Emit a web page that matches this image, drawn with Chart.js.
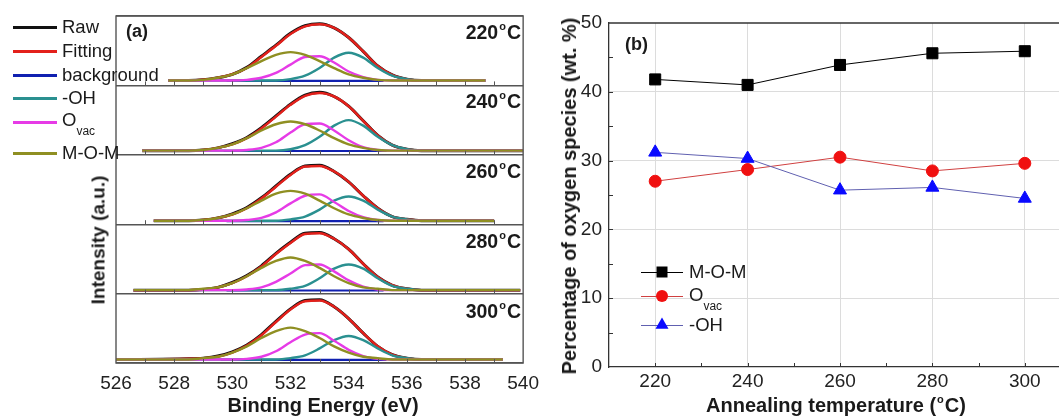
<!DOCTYPE html>
<html><head><meta charset="utf-8">
<script src="https://cdn.jsdelivr.net/npm/chart.js@4.4.1/dist/chart.umd.min.js"></script>
<style>
html,body{margin:0;padding:0;width:1059px;height:417px;overflow:hidden;background:#fff;}
body{position:relative;font-family:"Liberation Sans",Arial,sans-serif;color:#1a1a1a;}
#wrapA{position:absolute;left:0;top:0;width:540px;height:417px;}
#wrapB{position:absolute;left:540px;top:0;width:540px;height:417px;}
.t{position:absolute;white-space:nowrap;line-height:1;}
.b{font-weight:bold;font-size:20px;}
.lg{font-size:18.5px;}
.sub{font-size:12px;position:relative;top:9px;}
.sup{font-size:11px;position:relative;top:-9px;margin:0 1px;}
.rot{transform:translate(-50%,-50%) rotate(-90deg);}
.ln{position:absolute;height:3px;}
</style>
</head><body>
<div id="wrapA"><canvas id="cA" width="540" height="417"></canvas></div>
<div id="wrapB"><canvas id="cB" width="540" height="417"></canvas></div>

<!-- legend (a) -->
<div class="ln" style="left:13px;top:26px;width:44px;background:#111"></div>
<div class="ln" style="left:13px;top:50px;width:44px;background:#e3201b"></div>
<div class="ln" style="left:13px;top:74px;width:44px;background:#1020b0"></div>
<div class="ln" style="left:13px;top:97px;width:44px;background:#2a9090"></div>
<div class="ln" style="left:13px;top:121px;width:44px;background:#e63be6"></div>
<div class="ln" style="left:13px;top:152px;width:44px;background:#8f8f22"></div>
<div class="t lg" style="left:62px;top:18px">Raw</div>
<div class="t lg" style="left:62px;top:42px">Fitting</div>
<div class="t lg" style="left:62px;top:66px">background</div>
<div class="t lg" style="left:62px;top:89px">-OH</div>
<div class="t lg" style="left:62px;top:111px">O<span class="sub">vac</span></div>
<div class="t lg" style="left:62px;top:144px">M-O-M</div>

<div class="t b" style="left:126px;top:22px;font-size:18px">(a)</div>
<div class="t b" style="right:538px;top:23px;font-size:19.5px">220<span class="sup">o</span>C</div>
<div class="t b" style="right:538px;top:92px;font-size:19.5px">240<span class="sup">o</span>C</div>
<div class="t b" style="right:538px;top:162px;font-size:19.5px">260<span class="sup">o</span>C</div>
<div class="t b" style="right:538px;top:232px;font-size:19.5px">280<span class="sup">o</span>C</div>
<div class="t b" style="right:538px;top:302px;font-size:19.5px">300<span class="sup">o</span>C</div>
<div class="t b rot" style="left:98px;top:240px;font-size:19px">Intensity (a.u.)</div>
<div class="t b" style="left:323px;top:395px;transform:translateX(-50%)">Binding Energy (eV)</div>

<div class="t b" style="left:625px;top:35px;font-size:18px">(b)</div>
<div class="t b rot" style="left:569px;top:196px">Percentage of oxygen species (wt. %)</div>
<div class="t b" style="left:836px;top:395px;transform:translateX(-50%)">Annealing temperature (<span class="sup">o</span>C)</div>
<div class="t lg" style="left:689px;top:263px">M-O-M</div>
<div class="t lg" style="left:689px;top:286px">O<span class="sub">vac</span></div>
<div class="t lg" style="left:689px;top:316px">-OH</div>

<script>
const FONT = '"Liberation Sans", Arial, sans-serif';

// ---------- Panel (a): XPS O1s spectra ----------
const energyGrid = [528.5,529,529.5,530,530.5,531,531.5,532,532.5,533,533.5,534,534.5,535,535.5,536,536.5];
const temps = ['220','240','260','280','300'];
const startE = [527.8, 526.9, 527.3, 526.6, 526.0];
const endE   = [538.7, 540.0, 539.0, 539.9, 539.3];
const baseLevel = [0.07, 0.06, 0.05, 0.05, 0.05];
const bgStartE = [529.8, 529.7, 529.8, 529.8, 529.6];
const bgEndE   = [535.2, 535.3, 535.2, 535.2, 535.3];

const raw220  = [0.07,0.08,0.11,0.16,0.26,0.42,0.58,0.75,0.86,0.89,0.83,0.69,0.49,0.28,0.15,0.09,0.07];
const fit220  = [0.07,0.08,0.11,0.16,0.25,0.41,0.57,0.74,0.85,0.88,0.83,0.69,0.49,0.28,0.15,0.09,0.07];
const oh220   = [0.07,0.07,0.07,0.07,0.07,0.07,0.07,0.09,0.14,0.25,0.40,0.47,0.40,0.25,0.14,0.09,0.07];
const ovac220 = [0.07,0.07,0.07,0.07,0.08,0.11,0.18,0.30,0.41,0.42,0.33,0.20,0.12,0.08,0.07,0.07,0.07];
const mom220  = [0.07,0.08,0.11,0.16,0.25,0.35,0.44,0.48,0.44,0.35,0.25,0.16,0.11,0.08,0.07,0.07,0.07];

const raw240  = [0.06,0.07,0.10,0.16,0.25,0.39,0.56,0.73,0.86,0.90,0.84,0.70,0.49,0.28,0.14,0.08,0.06];
const fit240  = [0.06,0.07,0.10,0.15,0.24,0.38,0.55,0.72,0.85,0.89,0.84,0.70,0.49,0.28,0.14,0.08,0.06];
const oh240   = [0.06,0.06,0.06,0.06,0.06,0.06,0.06,0.08,0.14,0.26,0.42,0.50,0.42,0.26,0.14,0.08,0.06];
const ovac240 = [0.06,0.06,0.06,0.06,0.07,0.10,0.18,0.32,0.44,0.45,0.35,0.21,0.11,0.07,0.06,0.06,0.06];
const mom240  = [0.06,0.07,0.10,0.15,0.24,0.35,0.44,0.48,0.44,0.35,0.24,0.15,0.10,0.07,0.06,0.06,0.06];

const raw260  = [0.05,0.06,0.09,0.15,0.24,0.38,0.55,0.72,0.84,0.85,0.76,0.61,0.41,0.23,0.11,0.07,0.05];
const fit260  = [0.05,0.06,0.09,0.14,0.23,0.37,0.54,0.71,0.83,0.84,0.76,0.61,0.41,0.23,0.11,0.07,0.05];
const oh260   = [0.05,0.05,0.05,0.05,0.05,0.05,0.05,0.07,0.11,0.21,0.34,0.40,0.34,0.21,0.11,0.07,0.05];
const ovac260 = [0.05,0.05,0.05,0.05,0.06,0.09,0.17,0.30,0.41,0.43,0.32,0.19,0.10,0.06,0.05,0.05,0.05];
const mom260  = [0.05,0.06,0.09,0.14,0.23,0.34,0.44,0.48,0.44,0.34,0.23,0.14,0.09,0.06,0.05,0.05,0.05];

const raw280  = [0.05,0.06,0.09,0.16,0.26,0.40,0.58,0.74,0.87,0.88,0.79,0.64,0.43,0.24,0.12,0.07,0.05];
const fit280  = [0.05,0.06,0.09,0.15,0.25,0.39,0.57,0.73,0.86,0.87,0.79,0.64,0.43,0.24,0.12,0.07,0.05];
const oh280   = [0.05,0.05,0.05,0.05,0.05,0.05,0.05,0.07,0.11,0.22,0.36,0.42,0.36,0.22,0.11,0.07,0.05];
const ovac280 = [0.05,0.05,0.05,0.05,0.06,0.09,0.17,0.29,0.41,0.42,0.32,0.19,0.10,0.06,0.05,0.05,0.05];
const mom280  = [0.05,0.07,0.09,0.15,0.25,0.37,0.47,0.52,0.47,0.37,0.25,0.15,0.09,0.07,0.05,0.05,0.05];

const raw300  = [0.06,0.07,0.10,0.16,0.26,0.41,0.60,0.78,0.90,0.91,0.81,0.64,0.43,0.24,0.12,0.07,0.05];
const fit300  = [0.06,0.07,0.09,0.15,0.25,0.40,0.59,0.77,0.89,0.90,0.81,0.64,0.43,0.24,0.12,0.07,0.05];
const oh300   = [0.05,0.05,0.05,0.05,0.05,0.05,0.05,0.07,0.11,0.21,0.33,0.39,0.33,0.21,0.11,0.07,0.05];
const ovac300 = [0.05,0.05,0.05,0.05,0.06,0.09,0.17,0.30,0.41,0.43,0.32,0.19,0.10,0.06,0.05,0.05,0.05];
const mom300  = [0.05,0.07,0.09,0.15,0.24,0.36,0.46,0.51,0.46,0.36,0.24,0.15,0.09,0.07,0.05,0.05,0.05];

const panelSeries = {
  '220': {raw: raw220, fit: fit220, oh: oh220, ovac: ovac220, mom: mom220},
  '240': {raw: raw240, fit: fit240, oh: oh240, ovac: ovac240, mom: mom240},
  '260': {raw: raw260, fit: fit260, oh: oh260, ovac: ovac260, mom: mom260},
  '280': {raw: raw280, fit: fit280, oh: oh280, ovac: ovac280, mom: mom280},
  '300': {raw: raw300, fit: fit300, oh: oh300, ovac: ovac300, mom: mom300}
};
const seriesStyles = [
  {key:'raw',  color:'#111111', width:3.0, order:6},
  {key:'fit',  color:'#e3201b', width:2.5, order:5},
  {key:'oh',   color:'#2a9090', width:2.4, order:3},
  {key:'ovac', color:'#e63be6', width:2.4, order:2},
  {key:'mom',  color:'#8f8f22', width:2.4, order:1}
];

const dsA = [];
temps.forEach((t, i) => {
  const off = temps.length - 1 - i;
  const b = baseLevel[i];
  seriesStyles.forEach(st => {
    const arr = panelSeries[t][st.key];
    const pts = [{x: startE[i], y: off + b}]
      .concat(energyGrid.map((e, j) => ({x: e, y: off + arr[j]})))
      .concat([{x: endE[i], y: off + b}]);
    dsA.push({data: pts, borderColor: st.color, borderWidth: st.width, order: st.order,
      pointRadius: 0, fill: false, cubicInterpolationMode: 'monotone'});
  });
  dsA.push({data: [{x: bgStartE[i], y: off + b - 0.005}, {x: bgEndE[i], y: off + b - 0.005}],
    borderColor: '#1020b0', borderWidth: 2.2, order: 4, pointRadius: 0, fill: false});
});

const frameA = {
  id: 'frameA',
  afterDatasetsDraw(chart) {
    const {ctx, chartArea: a, scales: {x, y}} = chart;
    ctx.save();
    ctx.strokeStyle = '#555'; ctx.lineWidth = 1;
    for (let k = 0; k < 5; k++) {
      const py = y.getPixelForValue(k);
      for (let e = 527; e <= 539; e++) {
        const px = Math.round(x.getPixelForValue(e)) + 0.5;
        ctx.beginPath(); ctx.moveTo(px, py); ctx.lineTo(px, py - 4); ctx.stroke();
      }
    }
    ctx.lineWidth = 1.4;
    ctx.strokeRect(a.left, a.top, a.width, a.height);
    ctx.restore();
  }
};

new Chart(document.getElementById('cA'), {
  type: 'line',
  data: {datasets: dsA},
  options: {
    responsive: false, animation: false, events: [],
    layout: {padding: {top: 16, right: 16, left: 0, bottom: 0}},
    plugins: {legend: {display: false}, tooltip: {enabled: false}},
    scales: {
      x: {type: 'linear', min: 526, max: 540,
          ticks: {stepSize: 2, color: '#222', font: {size: 19, family: FONT}, padding: 1, maxRotation: 0},
          grid: {display: false}, border: {display: false},
          afterFit(s) { s.height = 54; }},
      y: {type: 'linear', min: 0, max: 5,
          ticks: {display: false, stepSize: 1},
          grid: {color: '#555', lineWidth: 1.4, drawTicks: false},
          border: {display: false},
          afterFit(s) { s.width = 116; }}
    }
  },
  plugins: [frameA]
});

// ---------- Panel (b): oxygen species ----------
const annealTemps = [220, 240, 260, 280, 300];
const momPct  = [41.8, 41.0, 43.9, 45.6, 45.9];
const ovacPct = [27.0, 28.7, 30.5, 28.5, 29.6];
const ohPct   = [31.2, 30.3, 25.7, 26.1, 24.5];

const toPts = arr => annealTemps.map((t, i) => ({x: t, y: arr[i]}));

function drawMarker(ctx, style, x, y, color) {
  ctx.fillStyle = color;
  ctx.beginPath();
  if (style === 'rect') { ctx.rect(x - 5.5, y - 5.5, 11, 11); }
  else if (style === 'circle') { ctx.arc(x, y, 6, 0, Math.PI * 2); }
  else { const r = 7.5, s = r * Math.sin(Math.PI / 3);
    ctx.moveTo(x, y - r); ctx.lineTo(x - s, y + r / 2); ctx.lineTo(x + s, y + r / 2); ctx.closePath(); }
  ctx.fill();
}

const frameB = {
  id: 'frameB',
  afterDraw(chart) {
    const {ctx, chartArea: a, scales: {x, y}} = chart;
    ctx.save();
    ctx.strokeStyle = '#333'; ctx.lineWidth = 1.3;
    ctx.beginPath(); ctx.moveTo(a.left, a.top); ctx.lineTo(a.right, a.top); ctx.stroke();
    ctx.lineWidth = 1;
    for (let v = 220; v <= 300; v += 10) {
      const px = Math.round(x.getPixelForValue(v)) + 0.5;
      ctx.beginPath(); ctx.moveTo(px, a.bottom); ctx.lineTo(px, a.bottom - 4); ctx.stroke();
    }
    for (let v = 5; v < 50; v += 5) {
      const py = Math.round(y.getPixelForValue(v)) + 0.5;
      ctx.beginPath(); ctx.moveTo(a.left, py); ctx.lineTo(a.left + 4, py); ctx.stroke();
    }
    // legend symbols
    const rows = [
      {y: 272, line: '#000', style: 'rect', c: '#000'},
      {y: 296, line: '#d04040', style: 'circle', c: '#f01010'},
      {y: 325, line: '#6060b0', style: 'triangle', c: '#0a0aff'}
    ];
    rows.forEach(r => {
      ctx.strokeStyle = r.line; ctx.lineWidth = 1;
      ctx.beginPath(); ctx.moveTo(101, r.y + 0.5); ctx.lineTo(143, r.y + 0.5); ctx.stroke();
      drawMarker(ctx, r.style, 122, r.y, r.c);
    });
    ctx.restore();
  }
};

const majorX = v => v % 20 === 0 && v >= 220 && v <= 300;
const majorY = v => v % 10 === 0;

new Chart(document.getElementById('cB'), {
  type: 'line',
  data: {datasets: [
    {label: '-OH', data: toPts(ohPct), borderColor: '#6060b0', borderWidth: 1,
     pointStyle: 'triangle', pointRadius: 7.5, pointBackgroundColor: '#0a0aff', pointBorderColor: '#0a0aff', pointBorderWidth: 1},
    {label: 'O_vac', data: toPts(ovacPct), borderColor: '#d04040', borderWidth: 1,
     pointStyle: 'circle', pointRadius: 6, pointBackgroundColor: '#f01010', pointBorderColor: '#f01010', pointBorderWidth: 1},
    {label: 'M-O-M', data: toPts(momPct), borderColor: '#000', borderWidth: 1,
     pointStyle: 'rect', pointRadius: 7.8, pointBackgroundColor: '#000', pointBorderColor: '#000', pointBorderWidth: 1}
  ]},
  options: {
    responsive: false, animation: false, events: [],
    layout: {padding: {top: 23, right: 9, left: 0, bottom: 0}},
    plugins: {legend: {display: false}, tooltip: {enabled: false}},
    scales: {
      x: {type: 'linear', min: 210, max: 310,
          ticks: {stepSize: 10, autoSkip: false, maxRotation: 0, color: '#222', font: {size: 19, family: FONT}, padding: 3,
                  callback: v => majorX(v) ? String(v) : ''},
          grid: {color: c => majorX(c.tick.value) ? '#dcdcdc' : 'rgba(0,0,0,0)', drawTicks: false, lineWidth: 1},
          border: {display: true, color: '#333', width: 1.3},
          afterFit(s) { s.height = 50; }},
      y: {type: 'linear', min: 0, max: 50,
          ticks: {stepSize: 5, autoSkip: false, color: '#222', font: {size: 19, family: FONT}, padding: 7,
                  callback: v => majorY(v) ? String(v) : ''},
          grid: {color: c => (majorY(c.tick.value) && c.tick.value > 0 && c.tick.value < 50) ? '#dcdcdc' : 'rgba(0,0,0,0)', drawTicks: false, lineWidth: 1},
          border: {display: true, color: '#333', width: 1.3},
          afterFit(s) { s.width = 69; }}
    }
  },
  plugins: [frameB]
});
</script>
</body></html>
